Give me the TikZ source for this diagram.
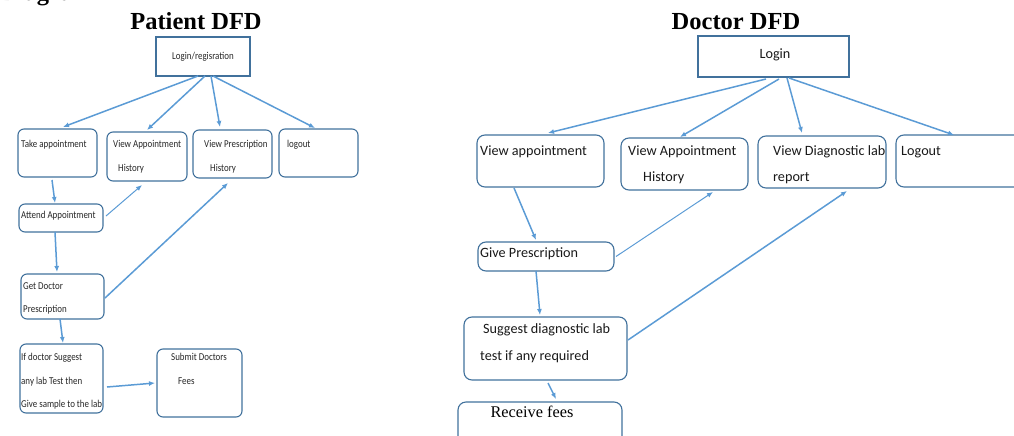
\documentclass[tikz,border=0pt]{standalone}
\usepackage{fontspec}
\setmainfont{Liberation Serif}
\newfontfamily\patfont[FakeStretch=0.85]{Carlito}
\newfontfamily\docfont{Carlito}
\usetikzlibrary{arrows.meta,positioning,calc}

\definecolor{boxblue}{HTML}{41719C}
\definecolor{flowblue}{HTML}{5B9BD5}

\begin{document}
\begin{tikzpicture}[
        x=1pt, y=-1pt,
        % Block styles
        loginbox/.style={
            rectangle,
            draw=boxblue,
            line width=1.1pt,
            inner sep=0pt, outer sep=0pt
        },
        pbox/.style={
            rectangle,
            draw=boxblue,
            line width=1.1pt,
            rounded corners=6pt,
            inner sep=0pt, outer sep=0pt
        },
        dbox/.style={
            pbox,
            rounded corners=8pt
        },
        ptext/.style={anchor=base west, inner sep=0pt, text=black!85, font=\patfont\fontsize{10.5}{12}\selectfont},
        dtext/.style={anchor=base west, inner sep=0pt, text=black!90, font=\docfont\fontsize{14.2}{16}\selectfont},
        heading/.style={anchor=base, inner sep=0pt, font=\bfseries\fontsize{24.5}{28}\selectfont},
        flow/.style={-{Latex[length=6pt,width=5pt]}, draw=flowblue, line width=1.5pt}
    ]
    \useasboundingbox (0,0) rectangle (1014,436);

    % Headings
    \node[heading, anchor=base west] (diag) at (0,1) {Diagram};
    \node[heading] (pattitle) at (196,30) {Patient DFD};
    \node[heading] (doctitle) at (736,30) {Doctor DFD};

    % Patient DFD
    \node[loginbox, minimum width=94pt, minimum height=39pt] (login) at (203,56.5) {};
    \node[ptext, anchor=center] (login-t) at (login.center) {Login/regisration};

    \node[pbox, minimum width=79pt, minimum height=48pt] (take) at (57.5,153) {};
    \node[ptext] (take-t) at (21,147) {Take appointment};

    \node[pbox, minimum width=80pt, minimum height=49pt] (vah) at (147,156.5) {};
    \node[ptext] (vah-t1) at (113,147) {View Appointment};
    \node[ptext] (vah-t2) at (118,171) {History};

    \node[pbox, minimum width=79pt, minimum height=48pt] (vph) at (232.5,154) {};
    \node[ptext] (vph-t1) at (204,147) {View Prescription};
    \node[ptext] (vph-t2) at (210,171) {History};

    \node[pbox, minimum width=79pt, minimum height=48pt] (logout) at (318.5,153) {};
    \node[ptext] (logout-t) at (287,147) {logout};

    \node[pbox, minimum width=84pt, minimum height=28pt] (attend) at (61,218) {};
    \node[ptext] (attend-t) at (21,218) {Attend Appointment};

    \node[pbox, minimum width=83pt, minimum height=45pt] (getdoc) at (62.5,296.5) {};
    \node[ptext] (getdoc-t1) at (23,289) {Get Doctor};
    \node[ptext] (getdoc-t2) at (23,312) {Prescription};

    \node[pbox, minimum width=83pt, minimum height=69pt] (ifdoc) at (61.5,378.5) {};
    \node[ptext] (ifdoc-t1) at (21,360) {If doctor Suggest};
    \node[ptext] (ifdoc-t2) at (21,384) {any lab Test then};
    \node[ptext] (ifdoc-t3) at (21,407) {Give sample to the lab};

    \node[pbox, minimum width=85pt, minimum height=68pt] (submit) at (199.5,383) {};
    \node[ptext] (submit-t1) at (171,360) {Submit Doctors};
    \node[ptext] (submit-t2) at (178,384) {Fees};

    % Doctor DFD
    \node[loginbox, minimum width=151pt, minimum height=41pt] (dlogin) at (773.5,56.5) {};
    \node[dtext, anchor=center] (dlogin-t) at (775,55) {Login};

    \node[dbox, minimum width=127pt, minimum height=52pt] (dview) at (540.5,161) {};
    \node[dtext] (dview-t) at (480,155) {View appointment};

    \node[dbox, minimum width=127pt, minimum height=52pt] (dvah) at (684.5,164) {};
    \node[dtext] (dvah-t1) at (628,155) {View Appointment};
    \node[dtext] (dvah-t2) at (643,181) {History};

    \node[dbox, minimum width=128pt, minimum height=52pt] (dvdl) at (822,162) {};
    \node[dtext] (dvdl-t1) at (773,155) {View Diagnostic lab};
    \node[dtext] (dvdl-t2) at (773,181) {report};

    \node[dbox, minimum width=134pt, minimum height=52pt] (dlogout) at (963,161) {};
    \node[dtext] (dlogout-t) at (901,155) {Logout};

    \node[dbox, minimum width=136pt, minimum height=29pt] (dgive) at (546,256.5) {};
    \node[dtext] (dgive-t) at (480,257) {Give Prescription};

    \node[dbox, minimum width=163pt, minimum height=63pt] (dsugg) at (545.5,348.5) {};
    \node[dtext] (dsugg-t1) at (483,333) {Suggest diagnostic lab};
    \node[dtext] (dsugg-t2) at (480,360) {test if any required};

    \node[dbox, minimum width=164pt, minimum height=48pt] (drecv) at (540,426) {};
    \node[anchor=base, inner sep=0pt, font=\fontsize{16.3}{18}\selectfont] (drecv-t) at (532,417) {Receive fees};

    % Connections (patient)
    \draw[flow] ([xshift=-5pt]login.south) -- ([xshift=5.5pt,yshift=2pt]take.north);
    \draw[flow] ([xshift=2pt]login.south) -- ([yshift=2pt]vah.north);
    \draw[flow] ([xshift=8pt]login.south) -- ([xshift=-12.5pt,yshift=3pt]vph.north);
    \draw[flow] ([xshift=10pt]login.south) -- ([xshift=-3.5pt,yshift=1pt]logout.north);
    \draw[flow] ([xshift=-5.5pt,yshift=-3pt]take.south) -- ([xshift=-6pt,yshift=1pt]attend.north);
    \draw[flow, line width=1pt] ([xshift=3pt,yshift=2pt]attend.east) -- ([xshift=-5pt,yshift=-4pt]vah.south);
    \draw[flow] ([xshift=-6pt]attend.south) -- ([xshift=-5.5pt,yshift=2pt]getdoc.north);
    \draw[flow] ([xshift=1pt,yshift=-1.5pt]getdoc.east) -- ([xshift=-4.5pt,yshift=-5pt]vph.south);
    \draw[flow] ([xshift=-2.5pt]getdoc.south) -- ([xshift=1.5pt,yshift=1pt]ifdoc.north);
    \draw[flow] ([xshift=4pt,yshift=-8.5pt]ifdoc.east) -- ([xshift=-2pt]submit.west);

    % Connections (doctor)
    \draw[flow] ([xshift=-7.5pt,yshift=-2pt]dlogin.south) -- ([xshift=7.5pt,yshift=2pt]dview.north);
    \draw[flow] ([xshift=5.5pt,yshift=-2pt]dlogin.south) -- ([xshift=-4.5pt,yshift=1pt]dvah.north);
    \draw[flow] ([xshift=13.5pt,yshift=-1pt]dlogin.south) -- ([xshift=-20pt,yshift=3pt]dvdl.north);
    \draw[flow] ([xshift=15.5pt,yshift=-1pt]dlogin.south) -- ([xshift=-9pt]dlogout.north);
    \draw[flow] ([xshift=-26.5pt,yshift=-1pt]dview.south) -- ([xshift=-10pt,yshift=2pt]dgive.north);
    \draw[flow, line width=1pt] ([xshift=2pt]dgive.east) -- ([xshift=28.5pt,yshift=-2pt]dvah.south);
    \draw[flow] ([xshift=-10pt]dgive.south) -- ([xshift=-5.5pt,yshift=2pt]dsugg.north);
    \draw[flow] ([xshift=1pt,yshift=8.5pt]dsugg.east) -- ([xshift=25pt,yshift=-3pt]dvdl.south);
    \draw[flow] ([xshift=2.5pt,yshift=-3pt]dsugg.south) -- ([xshift=16pt,yshift=3pt]drecv.north);
\end{tikzpicture}
\end{document}
